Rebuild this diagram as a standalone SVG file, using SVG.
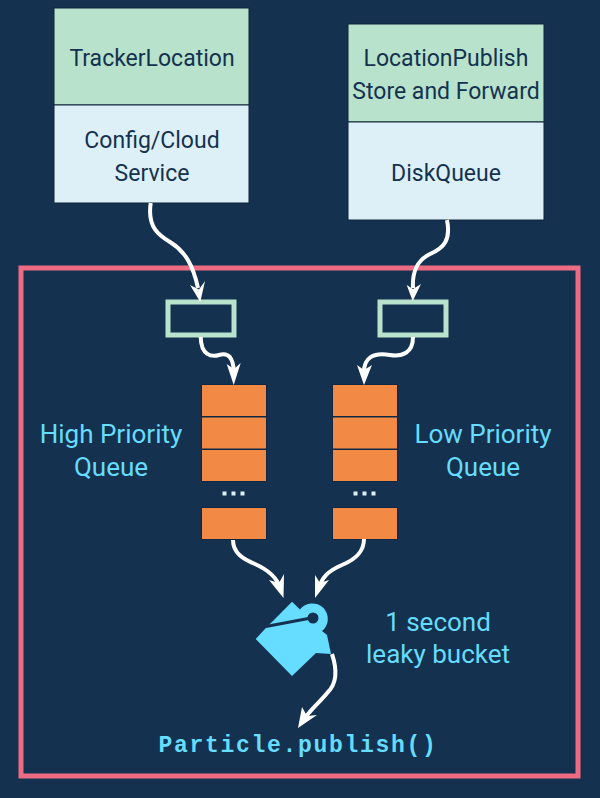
<svg xmlns="http://www.w3.org/2000/svg" width="600" height="798" viewBox="0 0 600 798">
<style>
.lbl{font-family:"Roboto","Liberation Sans",sans-serif;text-anchor:middle}
.dk{fill:#14324f;font-size:23px}
.cy{fill:#66dcff}
text.cy{font-size:26px}
.hd{fill:#b8e2cb;stroke:#0f2338;stroke-width:1}
.bd{fill:#def0f7;stroke:#0f2338;stroke-width:1}
.q{fill:#f28a45;stroke:#0f2744;stroke-width:1}
.sl{fill:none;stroke:#b8e2cb;stroke-width:5}
.dot{fill:#def0f7}
.c{fill:none;stroke:#fff;stroke-width:4;stroke-linecap:butt}
.h{fill:#fff;stroke:none}
</style>
<rect width="600" height="798" fill="#14324f"/>
<g id="frame"><rect x="21" y="268" width="557" height="508" fill="none" stroke="#ee6c83" stroke-width="5"/></g>
<g id="tracker">
<rect class="hd" x="54" y="8" width="195" height="97"/><rect class="bd" x="54" y="105" width="195" height="98"/>
<text class="lbl dk" x="152" y="66">TrackerLocation</text>
<text class="lbl dk" x="152" y="148">Config/Cloud</text>
<text class="lbl dk" x="152" y="181">Service</text>
</g>
<g id="publish">
<rect class="hd" x="348" y="24" width="196" height="98"/><rect class="bd" x="348" y="122" width="196" height="98"/>
<text class="lbl dk" x="446" y="66">LocationPublish</text>
<text class="lbl dk" x="446" y="99">Store and Forward</text>
<text class="lbl dk" x="446" y="181">DiskQueue</text>
</g>
<g id="slot-left"><rect class="sl" x="168" y="302" width="66" height="33"/></g>
<g id="slot-right"><rect class="sl" x="380" y="302" width="66" height="33"/></g>
<g id="high-queue">
<rect class="q" x="201.500" y="384.500" width="65" height="32"/>
<rect class="q" x="201.500" y="417" width="65" height="32"/>
<rect class="q" x="201.500" y="449.500" width="65" height="32"/>
<rect class="q" x="201.500" y="507.500" width="65" height="32"/>
<rect class="dot" x="222.500" y="491.500" width="4" height="4"/><rect class="dot" x="231.500" y="491.500" width="4" height="4"/><rect class="dot" x="240.500" y="491.500" width="4" height="4"/>
<text class="lbl cy" x="111" y="442.500">High Priority</text>
<text class="lbl cy" x="111" y="475.500">Queue</text>
</g>
<g id="low-queue">
<rect class="q" x="332.500" y="384.500" width="65" height="32"/>
<rect class="q" x="332.500" y="417" width="65" height="32"/>
<rect class="q" x="332.500" y="449.500" width="65" height="32"/>
<rect class="q" x="332.500" y="507.500" width="65" height="32"/>
<rect class="dot" x="353.500" y="491.500" width="4" height="4"/><rect class="dot" x="362.500" y="491.500" width="4" height="4"/><rect class="dot" x="371.500" y="491.500" width="4" height="4"/>
<text class="lbl cy" x="483" y="442.500">Low Priority</text>
<text class="lbl cy" x="483" y="475.500">Queue</text>
</g>
<g id="bucket">
<path class="cy" d="M255.700 639L267.700 626L273 621L292 601.700L300 609.500A15.500 15.500 0 1 1 322 631L327 635L331 654L316 653L292 676Z"/>
<path d="M266 626.500L311 618" fill="none" stroke="#14324f" stroke-width="3"/>
<circle cx="313" cy="618" r="4" fill="#14324f" stroke="#14324f" stroke-width="3"/>
<text class="lbl cy" x="438" y="631">1 second</text>
<text class="lbl cy" x="438" y="663">leaky bucket</text>
</g>
<g id="publish-call"><text x="298" y="752" text-anchor="middle" fill="#66dcff" font-family="'Liberation Mono',monospace" font-weight="700" font-size="23" letter-spacing="1.700">Particle.publish()</text></g>
<g id="connectors">
<path class="c" d="M150.700 203C147 228 160 236 170 242C185 251 193 265 198 288"/>
<path class="h" d="M200.300 302L190 285L199 289.500L205 281Z"/>
<path class="c" d="M200.700 337C201 356 212 357 219 355C229 352 233 358 234 372"/>
<path class="h" d="M233.700 385L226.700 364L234 369L240.700 363Z"/>
<path class="c" d="M447 220C451 240 444 248 430 254C418 260 412 270 413 288"/>
<path class="h" d="M412.700 301L406.700 285L413 289L421 284Z"/>
<path class="c" d="M413 337C413 353 402 357 390 355C373 352 364 358 364 372"/>
<path class="h" d="M364 385L357 365L364 370L372 365Z"/>
<path class="c" d="M233 540C233 553 243 559 255 564C268 570 277 577 281 590"/>
<path class="h" d="M283.500 598L269 580L279 583L284 574Z"/>
<path class="c" d="M364 539C364 553 354 560 342 565C328 571 322 577 318 590"/>
<path class="h" d="M315 598L315 575L320 583L329 580Z"/>
<path class="c" d="M332 654C338 672 336 684 328 692C320 702 312 708 305 718"/>
<path class="h" d="M298 728L302 707L307 716L317 715Z"/>
</g>
</svg>
